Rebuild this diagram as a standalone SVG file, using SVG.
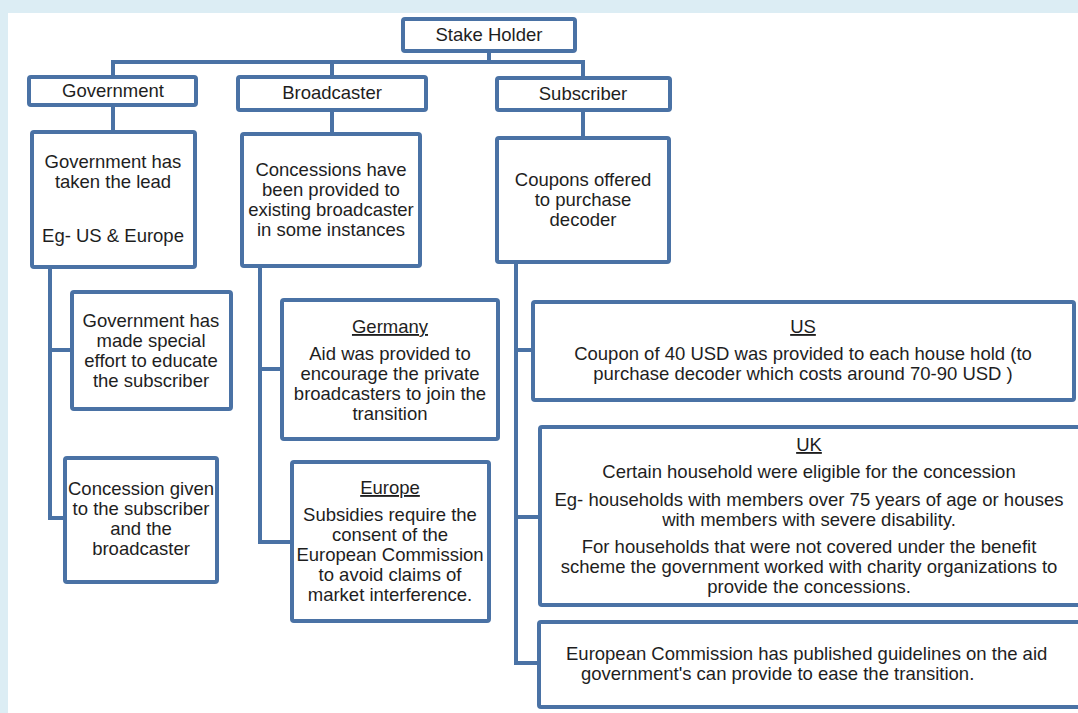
<svg xmlns="http://www.w3.org/2000/svg" width="1078" height="713" viewBox="0 0 1078 713">
  <style>
    .box { fill: #ffffff; stroke: #4a72a5; stroke-width: 4; }
    .link { fill: none; stroke: #4a72a5; stroke-width: 4; stroke-linejoin: miter; stroke-linecap: square; }
    text { font-family: "Liberation Sans", Arial, sans-serif; font-size: 18.5px; fill: #1e1e1e; text-anchor: middle; }
    .head { text-decoration: underline; }
    .left { text-anchor: start; }
  </style>

  <!-- page background and white sheet -->
  <rect x="0" y="0" width="1078" height="713" fill="#dcedf4"/>
  <rect x="8" y="13" width="1070" height="700" fill="#ffffff"/>

  <!-- connectors -->
  <g id="connectors">
    <path class="link" d="M489 51 V62 M113 62 H583 M113 62 V77 M332 62 V77 M583 62 V78"/>
    <path class="link" d="M113 105 V132 M332 110 V134 M583 110 V138"/>
    <path class="link" d="M50 267 V518 H65 M50 350 H72"/>
    <path class="link" d="M260 266 V542 H292 M260 369 H282"/>
    <path class="link" d="M516 262 V663 H539 M516 350 H533 M516 517 H540"/>
  </g>

  <g id="stakeholder">
    <rect class="box" x="403" y="19" width="172" height="32" rx="2"/>
    <text x="489" y="41">Stake Holder</text>
  </g>

  <g id="government">
    <rect class="box" x="29" y="77" width="167" height="28" rx="2"/>
    <text x="113" y="97">Government</text>
  </g>

  <g id="broadcaster">
    <rect class="box" x="238" y="77" width="188" height="33" rx="2"/>
    <text x="332" y="99">Broadcaster</text>
  </g>

  <g id="subscriber">
    <rect class="box" x="497" y="78" width="173" height="32" rx="2"/>
    <text x="583" y="100">Subscriber</text>
  </g>

  <g id="gov-lead">
    <rect class="box" x="32" y="132" width="163" height="135" rx="2"/>
    <text x="113" y="168">Government has</text>
    <text x="113" y="188">taken the lead</text>
    <text x="113" y="242">Eg- US &amp; Europe</text>
  </g>

  <g id="broadcaster-concessions">
    <rect class="box" x="242" y="134" width="178" height="132" rx="2"/>
    <text x="331" y="176">Concessions have</text>
    <text x="331" y="196">been provided to</text>
    <text x="331" y="216">existing broadcaster</text>
    <text x="331" y="236">in some instances</text>
  </g>

  <g id="subscriber-coupons">
    <rect class="box" x="497" y="138" width="172" height="124" rx="2"/>
    <text x="583" y="186">Coupons offered</text>
    <text x="583" y="206">to purchase</text>
    <text x="583" y="226">decoder</text>
  </g>

  <g id="gov-educate">
    <rect class="box" x="72" y="292" width="159" height="117" rx="2"/>
    <text x="151" y="327">Government has</text>
    <text x="151" y="347">made special</text>
    <text x="151" y="367">effort to educate</text>
    <text x="151" y="387">the subscriber</text>
  </g>

  <g id="gov-concession">
    <rect class="box" x="65" y="458" width="152" height="124" rx="2"/>
    <text x="141" y="495">Concession given</text>
    <text x="141" y="515">to the subscriber</text>
    <text x="141" y="535">and the</text>
    <text x="141" y="555">broadcaster</text>
  </g>

  <g id="germany">
    <rect class="box" x="282" y="300" width="216" height="139" rx="2"/>
    <text class="head" x="390" y="333">Germany</text>
    <text x="390" y="360">Aid was provided to</text>
    <text x="390" y="380">encourage the private</text>
    <text x="390" y="400">broadcasters to join the</text>
    <text x="390" y="420">transition</text>
  </g>

  <g id="europe">
    <rect class="box" x="292" y="462" width="197" height="159" rx="2"/>
    <text class="head" x="390" y="494">Europe</text>
    <text x="390" y="521">Subsidies require the</text>
    <text x="390" y="541">consent of the</text>
    <text x="390" y="561">European Commission</text>
    <text x="390" y="581">to avoid claims of</text>
    <text x="390" y="601">market interference.</text>
  </g>

  <g id="us">
    <rect class="box" x="533" y="302" width="541" height="98" rx="2"/>
    <text class="head" x="803" y="333">US</text>
    <text x="803" y="360">Coupon of 40 USD was provided to each house hold (to</text>
    <text x="803" y="380">purchase decoder which costs around 70-90 USD )</text>
  </g>

  <g id="uk">
    <rect class="box" x="540" y="427" width="545" height="178" rx="2"/>
    <text class="head" x="809" y="451">UK</text>
    <text x="809" y="478">Certain household were eligible for the concession</text>
    <text x="809" y="506">Eg- households with members over 75 years of age or houses</text>
    <text x="809" y="526">with members with severe disability.</text>
    <text x="809" y="553">For households that were not covered under the benefit</text>
    <text x="809" y="573">scheme the government worked with charity organizations to</text>
    <text x="809" y="593">provide the concessions.</text>
  </g>

  <g id="ec-guidelines">
    <rect class="box" x="539" y="622" width="545" height="85" rx="2"/>
    <text class="left" x="566" y="660">European Commission has published guidelines on the aid</text>
    <text class="left" x="581" y="680">government's can provide to ease the transition.</text>
  </g>
</svg>
